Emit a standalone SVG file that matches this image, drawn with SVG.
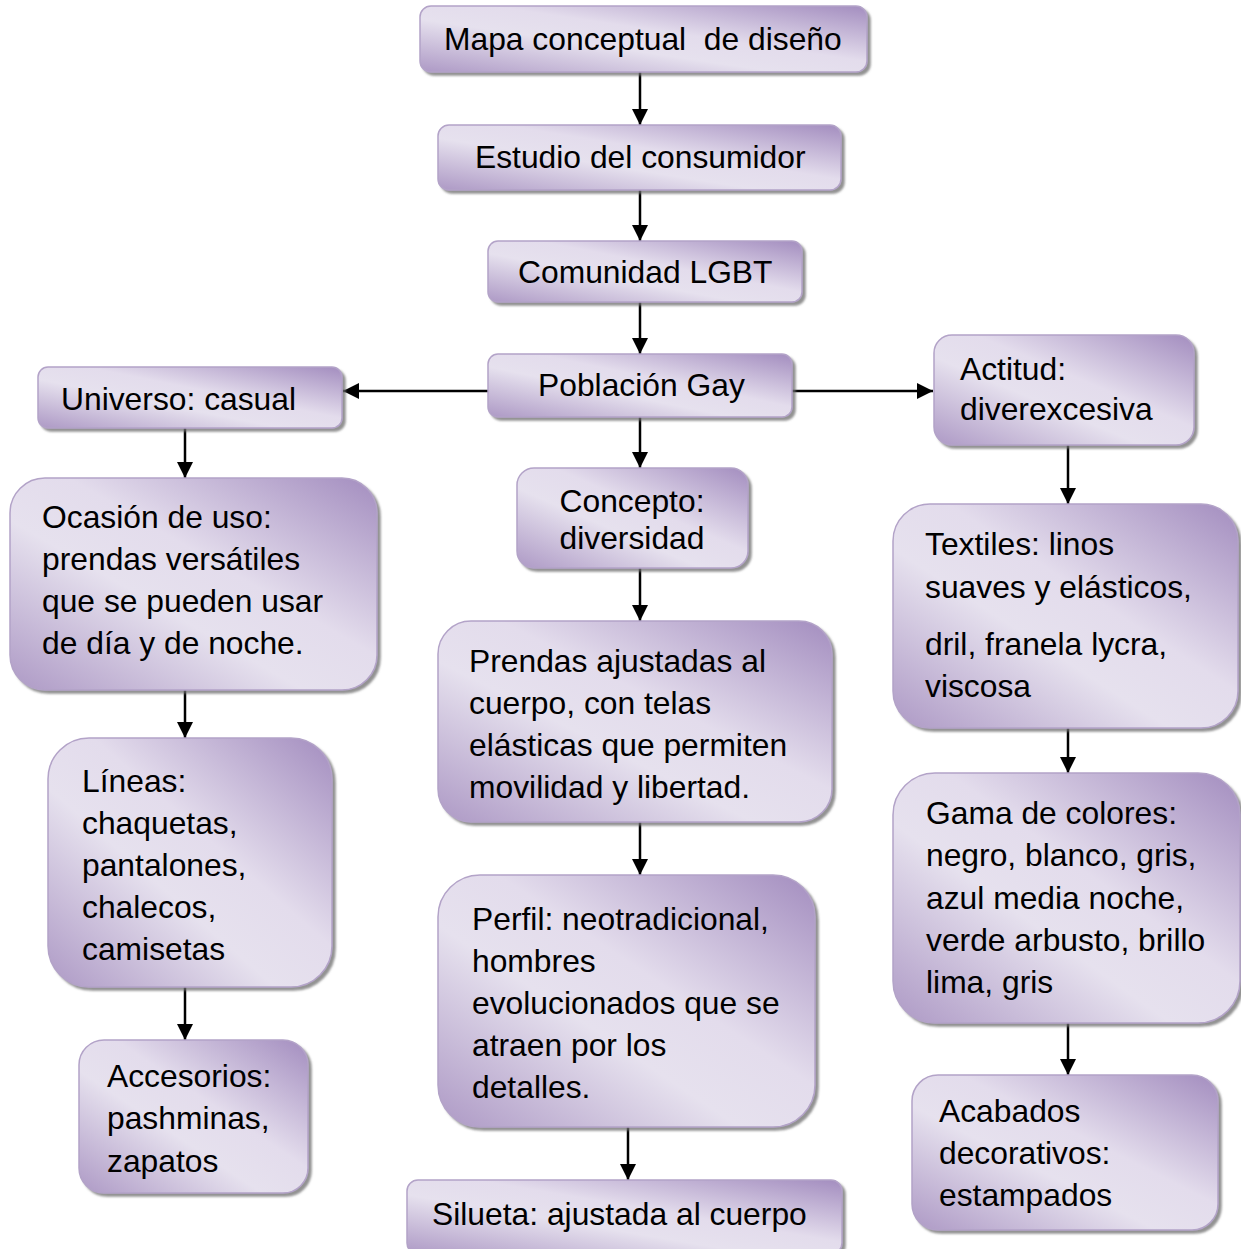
<svg xmlns="http://www.w3.org/2000/svg" width="1241" height="1249" viewBox="0 0 1241 1249">
<style>
.box{fill:url(#g);stroke:#b3a3c8;stroke-width:1.5;filter:url(#sh)}
.t{font-family:"Liberation Sans",Arial,sans-serif;font-size:31.8px;fill:#000;white-space:pre}
.c{stroke:#000;stroke-width:2.5;fill:none;marker-end:url(#ah)}
</style>
<defs>
<linearGradient id="g" x1="1" y1="0" x2="0" y2="1">
<stop offset="0" stop-color="#a38dbf"/>
<stop offset="0.42" stop-color="#e3dcec"/>
<stop offset="0.6" stop-color="#e6e1ee"/>
<stop offset="1" stop-color="#ad99c5"/>
</linearGradient>
<filter id="sh" x="-10%" y="-10%" width="125%" height="125%">
<feGaussianBlur in="SourceAlpha" stdDeviation="1.2"/>
<feOffset dx="2.5" dy="3" result="o"/>
<feFlood flood-color="#6e6e6e" flood-opacity="0.75"/>
<feComposite in2="o" operator="in"/>
<feMerge><feMergeNode/><feMergeNode in="SourceGraphic"/></feMerge>
</filter>
<marker id="ah" viewBox="0 0 10 10" refX="10" refY="5" markerWidth="16" markerHeight="16" markerUnits="userSpaceOnUse" orient="auto">
<path d="M0,0 L10,5 L0,10 z" fill="#000"/>
</marker>
</defs>
<g id="connectors">
<line class="c" x1="640" y1="72" x2="640" y2="125"/>
<line class="c" x1="640" y1="190" x2="640" y2="241"/>
<line class="c" x1="640" y1="302" x2="640" y2="354"/>
<line class="c" x1="488" y1="391" x2="343" y2="391"/>
<line class="c" x1="792" y1="391" x2="933" y2="391"/>
<line class="c" x1="640" y1="417" x2="640" y2="468"/>
<line class="c" x1="640" y1="568" x2="640" y2="621"/>
<line class="c" x1="640" y1="822" x2="640" y2="875"/>
<line class="c" x1="628" y1="1127" x2="628" y2="1180"/>
<line class="c" x1="185" y1="428" x2="185" y2="478"/>
<line class="c" x1="185" y1="690" x2="185" y2="738"/>
<line class="c" x1="185" y1="987" x2="185" y2="1040"/>
<line class="c" x1="1068" y1="445" x2="1068" y2="504"/>
<line class="c" x1="1068" y1="728" x2="1068" y2="773"/>
<line class="c" x1="1068" y1="1023" x2="1068" y2="1075"/>
</g>
<g id="n-mapa">
<rect class="box" x="420" y="6" width="447" height="66" rx="11"/>
<text class="t" x="444" y="50" xml:space="preserve">Mapa conceptual  de diseño</text>
</g>
<g id="n-estudio">
<rect class="box" x="438" y="125" width="403" height="65" rx="11"/>
<text class="t" x="475" y="168">Estudio del consumidor</text>
</g>
<g id="n-comunidad">
<rect class="box" x="488" y="241" width="314" height="61" rx="10"/>
<text class="t" x="518" y="283">Comunidad LGBT</text>
</g>
<g id="n-poblacion">
<rect class="box" x="488" y="354" width="304" height="63" rx="10"/>
<text class="t" x="538" y="396">Población Gay</text>
</g>
<g id="n-universo">
<rect class="box" x="38" y="367" width="304" height="61" rx="10"/>
<text class="t" x="61" y="410">Universo: casual</text>
</g>
<g id="n-actitud">
<rect class="box" x="934" y="335" width="260" height="110" rx="18"/>
<text class="t" x="960" y="380">Actitud:</text>
<text class="t" x="960" y="420">diverexcesiva</text>
</g>
<g id="n-concepto">
<rect class="box" x="517" y="468" width="231" height="100" rx="17"/>
<text class="t" x="632" y="512" text-anchor="middle">Concepto:</text>
<text class="t" x="632" y="549" text-anchor="middle">diversidad</text>
</g>
<g id="n-ocasion">
<rect class="box" x="10" y="478" width="367" height="212" rx="35"/>
<text class="t" x="42" y="528">Ocasión de uso:</text>
<text class="t" x="42" y="570">prendas versátiles</text>
<text class="t" x="42" y="612">que se pueden usar</text>
<text class="t" x="42" y="654">de día y de noche.</text>
</g>
<g id="n-prendas">
<rect class="box" x="438" y="621" width="394" height="201" rx="33"/>
<text class="t" x="469" y="672">Prendas ajustadas al</text>
<text class="t" x="469" y="714">cuerpo, con telas</text>
<text class="t" x="469" y="756">elásticas que permiten</text>
<text class="t" x="469" y="798">movilidad y libertad.</text>
</g>
<g id="n-textiles">
<rect class="box" x="893" y="504" width="345" height="224" rx="37"/>
<text class="t" x="925" y="555">Textiles: linos</text>
<text class="t" x="925" y="598">suaves y elásticos,</text>
<text class="t" x="925" y="655">dril, franela lycra,</text>
<text class="t" x="925" y="697">viscosa</text>
</g>
<g id="n-lineas">
<rect class="box" x="48" y="738" width="284" height="249" rx="41"/>
<text class="t" x="82" y="792">Líneas:</text>
<text class="t" x="82" y="834">chaquetas,</text>
<text class="t" x="82" y="876">pantalones,</text>
<text class="t" x="82" y="918">chalecos,</text>
<text class="t" x="82" y="960">camisetas</text>
</g>
<g id="n-accesorios">
<rect class="box" x="79" y="1040" width="229" height="153" rx="25"/>
<text class="t" x="107" y="1087">Accesorios:</text>
<text class="t" x="107" y="1129">pashminas,</text>
<text class="t" x="107" y="1172">zapatos</text>
</g>
<g id="n-perfil">
<rect class="box" x="438" y="875" width="377" height="252" rx="42"/>
<text class="t" x="472" y="930">Perfil: neotradicional,</text>
<text class="t" x="472" y="972">hombres</text>
<text class="t" x="472" y="1014">evolucionados que se</text>
<text class="t" x="472" y="1056">atraen por los</text>
<text class="t" x="472" y="1098">detalles.</text>
</g>
<g id="n-silueta">
<rect class="box" x="407" y="1180" width="435" height="74" rx="11"/>
<text class="t" x="432" y="1225">Silueta: ajustada al cuerpo</text>
</g>
<g id="n-gama">
<rect class="box" x="893" y="773" width="347" height="250" rx="42"/>
<text class="t" x="926" y="824">Gama de colores:</text>
<text class="t" x="926" y="866">negro, blanco, gris,</text>
<text class="t" x="926" y="909">azul media noche,</text>
<text class="t" x="926" y="951">verde arbusto, brillo</text>
<text class="t" x="926" y="993">lima, gris</text>
</g>
<g id="n-acabados">
<rect class="box" x="912" y="1075" width="306" height="155" rx="26"/>
<text class="t" x="939" y="1122">Acabados</text>
<text class="t" x="939" y="1164">decorativos:</text>
<text class="t" x="939" y="1206">estampados</text>
</g>
</svg>
